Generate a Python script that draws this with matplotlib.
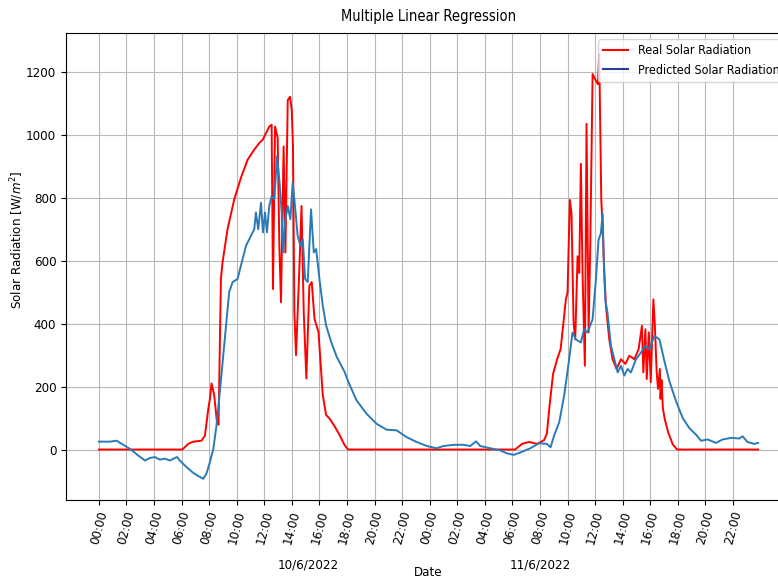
import matplotlib
matplotlib.use("Agg")
import matplotlib.pyplot as plt
import matplotlib.transforms as mtransforms
from matplotlib.lines import Line2D

# hours since 10/6/2022 00:00
real_t = [0.0, 6.05, 6.48, 6.84, 7.44, 7.69, 7.93, 8.05, 8.17, 8.36, 8.56, 8.68, 8.85, 8.97,
          9.33, 9.82, 10.3, 10.79, 11.27, 11.64, 11.88, 12.12, 12.36, 12.53, 12.63, 12.78,
          12.97, 13.09, 13.21, 13.4, 13.53, 13.7, 13.87, 13.99, 14.08, 14.18, 14.3, 14.55,
          14.7, 14.86, 15.05, 15.27, 15.44, 15.64, 15.78, 15.93, 16.24, 16.48, 16.74, 17.1,
          17.45, 17.8, 18.07, 30.2, 30.7, 31.2, 31.8, 32.3, 32.5, 32.7, 32.95, 33.27, 33.5,
          33.68, 33.88, 34.0, 34.17, 34.29, 34.44, 34.56, 34.73, 34.85, 34.97, 35.09, 35.26,
          35.38, 35.53, 35.65, 35.82, 36.06, 36.2, 36.3, 36.45, 36.55, 36.67, 36.79, 37.03,
          37.27, 37.56, 37.88, 38.2, 38.48, 38.85, 39.16, 39.4, 39.5, 39.65, 39.75, 39.9,
          40.04, 40.23, 40.33, 40.47, 40.57, 40.7, 40.75, 40.82, 40.92, 41.05, 41.3, 41.64,
          41.95, 47.83]
real_v = [0, 0, 18, 25, 28, 44, 128, 160, 210, 174, 89, 79, 542, 595,
          700, 795, 863, 921, 953, 974, 984, 1005, 1026, 1032, 510, 1026,
          990, 647, 468, 963, 626, 1110, 1121, 1079, 963, 437, 300, 584,
          774, 437, 226, 521, 532, 416, 395, 374, 174, 110, 98, 74,
          47, 16, 0, 0, 18, 24, 18, 30, 50, 140, 240, 290, 319,
          393, 477, 498, 793, 750, 403, 350, 614, 561, 908, 561, 266,
          1035, 372, 645, 1193, 1172, 1161, 1256, 793, 708, 561, 456, 350,
          287, 256, 287, 272, 298, 287, 319, 393, 245, 382, 224, 372,
          214, 477, 403, 245, 193, 256, 161, 221, 131, 98, 55, 16,
          0, 0]

pred_t = [0.0, 0.8, 1.28, 1.76, 2.25, 2.85, 3.34, 3.7, 4.06, 4.42, 4.79, 5.15, 5.5, 5.68,
          5.87, 6.36, 6.84, 7.32, 7.57, 7.8, 8.05, 8.3, 8.53, 8.73, 9.09, 9.45, 9.7, 10.06,
          10.3, 10.67, 11.03, 11.27, 11.39, 11.56, 11.76, 11.9, 12.05, 12.19, 12.36, 12.53,
          12.73, 12.92, 13.09, 13.26, 13.36, 13.5, 13.7, 13.89, 14.06, 14.18, 14.42, 14.62,
          14.79, 14.96, 15.15, 15.39, 15.59, 15.76, 16.0, 16.24, 16.48, 16.85, 17.25, 17.82,
          18.1, 18.68, 19.41, 20.14, 20.87, 21.6, 22.3, 23.05, 23.8, 24.5, 25.0, 25.73,
          26.46, 26.94, 27.36, 27.67, 28.4, 29.13, 29.6, 30.1, 30.6, 31.3, 31.94, 32.5,
          32.77, 33.03, 33.4, 33.76, 34.12, 34.36, 34.6, 34.97, 35.2, 35.45, 35.82, 36.06,
          36.25, 36.42, 36.55, 36.62, 36.74, 36.9, 37.15, 37.4, 37.64, 37.88, 38.12, 38.36,
          38.6, 38.97, 39.33, 39.65, 39.94, 40.3, 40.67, 41.04, 41.4, 41.88, 42.36, 42.84,
          43.33, 43.69, 44.17, 44.77, 45.25, 45.86, 46.46, 46.7, 47.06, 47.54, 47.83]
pred_v = [25, 25, 28, 15, 2, -19, -35, -27, -24, -32, -29, -35, -27, -24,
          -35, -56, -74, -87, -93, -77, -40, 2, 76, 163, 332, 500, 532, 542,
          584, 647, 679, 700, 753, 700, 784, 690, 753, 690, 774, 805,
          795, 932, 858, 753, 626, 721, 774, 732, 847, 795, 679, 647,
          668, 542, 532, 763, 626, 637, 542, 458, 395, 342, 295, 247,
          215, 157, 114, 82, 63, 61, 40, 24, 11, 4, 11, 15,
          15, 11, 26, 11, 4, -3, -12, -17, -9, 4, 20, 18,
          7, 45, 87, 172, 287, 372, 350, 340, 382, 372, 414, 540,
          666, 687, 750, 614, 477, 435, 330, 287, 245, 266, 235, 256,
          245, 287, 308, 330, 319, 361, 350, 279, 216, 153, 100, 68,
          47, 28, 32, 21, 32, 37, 35, 42, 24, 18, 21]

tick_hours = list(range(0, 48, 2))
tick_labels = ["%02d:00" % (h % 24) for h in tick_hours]
day_labels = ["10/6/2022", "11/6/2022"]
day_pos = [15.2, 32.0]

plt.rcParams["font.family"] = "DejaVu Sans"
plt.rcParams["font.stretch"] = "condensed"

fig = plt.figure(figsize=(7.78, 5.79), dpi=100)
ax = fig.add_axes([0.0848, 0.1364, 0.932, 0.8066])

ax.plot(real_t, real_v, color="red", lw=1.4)
ax.plot(pred_t, pred_v, color="#2a7ab8", lw=1.4)

ax.set_xticks(tick_hours)
ax.set_xticklabels(tick_labels, rotation=75, fontsize=9.5)
ax.tick_params(axis="y", labelsize=9.5)
ax.grid(True, color="#b8b8b8", lw=0.8)

ax.set_title("Multiple Linear Regression", fontsize=10.5, pad=9)
ax.set_xlabel("Date", fontsize=9.5)
ax.xaxis.set_label_coords(0.5, -0.141)
ax.set_ylabel("Solar Radiation [W/$m^2$]", fontsize=9.5)
ax.yaxis.set_label_coords(-0.055, 0.557)

trans = mtransforms.blended_transform_factory(ax.transData, ax.transAxes)
for lab, pos in zip(day_labels, day_pos):
    ax.text(pos, -0.139, lab, transform=trans, ha="center", va="center", fontsize=9.5)

# the original figure is cropped on the right, so the legend runs off the edge
handles = [Line2D([], [], color="red", lw=1.5), Line2D([], [], color="#2b3d9c", lw=1.5)]
ax.legend(handles, ["Real Solar Radiation", "Predicted Solar Radiation"],
          loc="upper right", fontsize=9)

fig.savefig("out.png", dpi=100)
